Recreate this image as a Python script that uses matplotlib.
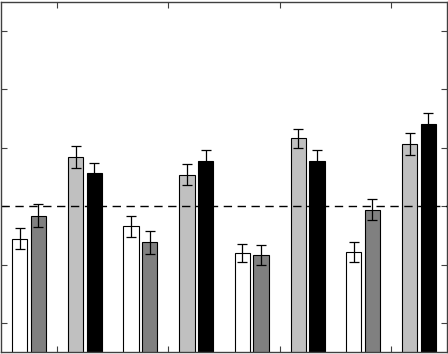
import numpy as np
import matplotlib
matplotlib.use("Agg")
import matplotlib.pyplot as plt

# bar heights per group (4 groups, 4 series)
white_vals = [0.72, 0.83, 0.60, 0.61]
gray_vals = [0.92, 0.69, 0.58, 0.97]
light_vals = [1.42, 1.27, 1.58, 1.53]
black_vals = [1.28, 1.39, 1.39, 1.70]

white_err = [0.09, 0.09, 0.075, 0.085]
gray_err = [0.10, 0.095, 0.087, 0.092]
light_err = [0.094, 0.091, 0.084, 0.095]
black_err = [0.094, 0.094, 0.094, 0.097]

groups = np.arange(1, 5)
series = [
    (white_vals, white_err, "white", -0.335),
    (gray_vals, gray_err, "#808080", -0.168),
    (light_vals, light_err, "#c0c0c0", 0.168),
    (black_vals, black_err, "black", 0.335),
]

base = -0.5  # bars run past the bottom edge of the axes

fig = plt.figure(figsize=(4.48, 3.54), dpi=100)
ax = fig.add_axes([0.003, 0.005, 0.994, 0.99])

for vals, errs, col, off in series:
    vals = np.array(vals)
    ax.bar(groups + off, vals - base, bottom=base, width=0.138, color=col,
           edgecolor="black", linewidth=0.8, zorder=2)
    ax.errorbar(groups + off, vals, yerr=errs, fmt="none", ecolor="black",
                elinewidth=0.9, capsize=3.5, capthick=0.9, zorder=3)

ax.axhline(1.0, color="black", linestyle=(0, (6, 4)), linewidth=1.0, zorder=4)

ax.set_xlim(0.5, 4.5)
ax.set_ylim(-0.25, 2.75)
ax.set_xticks(groups)
ax.set_yticks(np.arange(0, 2.51, 0.5))
ax.tick_params(direction="in", length=4, width=0.8, color="#404040",
               top=True, right=True, labelbottom=False, labelleft=False)
for sp in ax.spines.values():
    sp.set_color("#404040")
    sp.set_linewidth(1.0)
    sp.set_zorder(5)

fig.savefig("out.png", dpi=100)
